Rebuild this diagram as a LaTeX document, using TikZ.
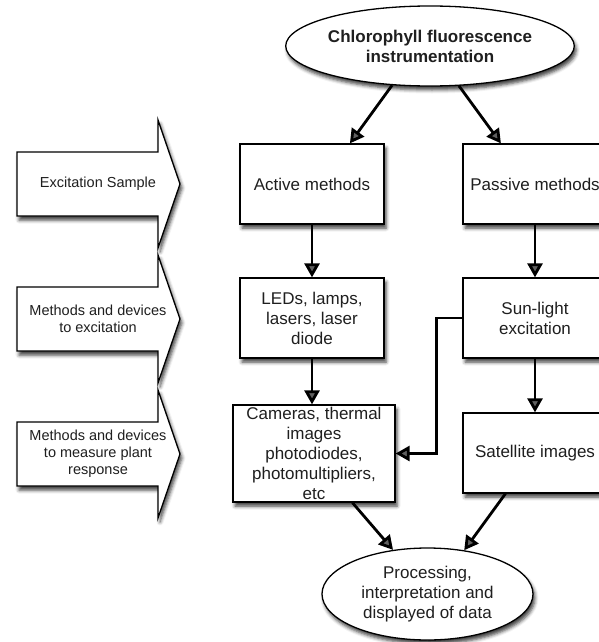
\documentclass[tikz,border=0pt]{standalone}
\usepackage{fontspec}
\setmainfont{Liberation Sans}
\usetikzlibrary{arrows.meta,shadows.blur,shapes.geometric}
\begin{document}
\begin{tikzpicture}[x=1pt,y=-1pt,
  every node/.style={font=\fontsize{17}{20}\selectfont, align=center, text=black!88},
  softshadow/.style={blur shadow={shadow xshift=2pt, shadow yshift=-4pt,
      shadow blur radius=3.5pt, shadow opacity=75}},
  box/.style={draw, line width=1.3pt, fill=white, inner sep=0pt,
      minimum width=144pt, minimum height=80pt, softshadow},
  oval/.style={draw, ellipse, line width=1.3pt, fill=white, inner sep=0pt, softshadow},
  flow/.style={line width=2.8pt, -{Triangle[length=14pt,width=15pt]}},
  sidearrow/.style={draw, line width=1.3pt, fill=white, line join=miter, softshadow},
  sidelabel/.style={font=\fontsize{14.5}{17}\selectfont}
]
\useasboundingbox (0,0) rectangle (599,642);

% stage arrows on the left
\path[sidearrow] (17,152) -- (158,152) -- (158,120) -- (180,184) -- (158,248)
  -- (158,216) -- (17,216) -- cycle;
\path[sidearrow] (17,287) -- (158,287) -- (158,255) -- (180,319) -- (158,383)
  -- (158,351) -- (17,351) -- cycle;
\path[sidearrow] (17,422) -- (158,422) -- (158,390) -- (180,454) -- (158,518)
  -- (158,486) -- (17,486) -- cycle;
\node[sidelabel] (lab1) at (98,184) {Excitation Sample};
\node[sidelabel] (lab2) at (98,319) {Methods and devices\\to excitation};
\node[sidelabel] (lab3) at (98,454) {Methods and devices\\to measure plant\\response};

% main flow
\node[oval, minimum width=279pt, minimum height=80pt, font=\fontsize{17}{20}\selectfont\bfseries]
  (title) at (430,46) {Chlorophyll fluorescence\\instrumentation};
\node[box] (active) at (312,184) {Active methods};
\node[box] (passive) at (535,184) {Passive methods};
\node[box] (leds) at (312,318) {LEDs, lamps,\\lasers, laser\\diode};
\node[box] (sun) at (535,318) {Sun-light\\excitation};
\node[box, minimum width=162pt, minimum height=97pt] (cam) at (314,453.5)
  {Cameras, thermal\\images\\photodiodes,\\photomultipliers,\\etc};
\node[box] (sat) at (535,453) {Satellite images};
\node[oval, minimum width=211pt, minimum height=92pt] (proc) at (427.5,594)
  {Processing,\\interpretation and\\displayed of data};

\draw[flow] (title.226) -- (active.47);
\draw[flow] (title.306) -- (passive.130);
\draw[flow] (active.south) -- (leds.north);
\draw[flow] (passive.south) -- (sun.north);
\draw[flow] (leds.south) -- (leds.south |- cam.north);
\draw[flow] (sun.south) -- (sat.north);
\draw[flow] (sun.west) -- ++(-26,0) |- (cam.east);
\draw[flow] (cam.308) -- (proc.128);
\draw[flow] (sat.234) -- (proc.50);
\end{tikzpicture}
\end{document}
